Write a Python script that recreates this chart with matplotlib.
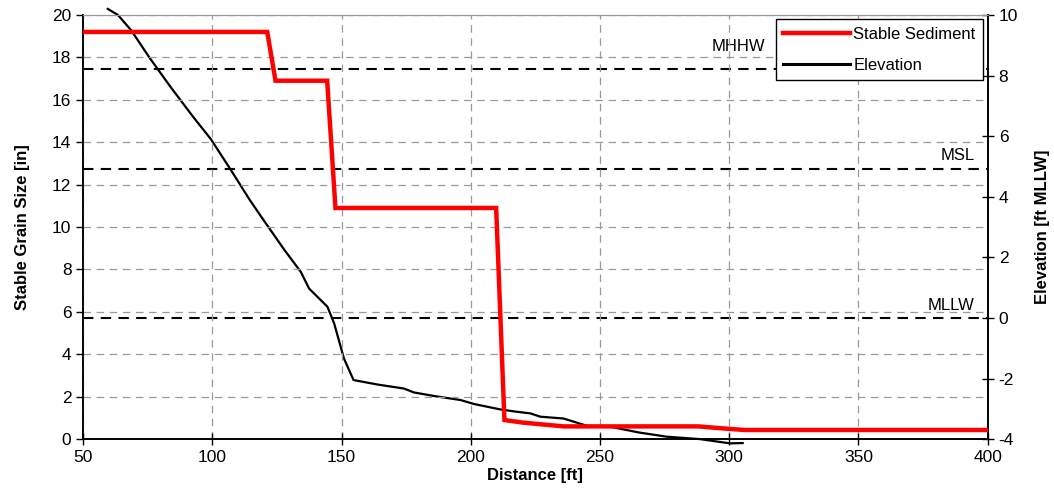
import matplotlib.pyplot as plt

plt.rcParams["font.family"] = ["Liberation Sans", "DejaVu Sans"]
plt.rcParams["axes.unicode_minus"] = False

# stable grain size [in] along the profile
sediment_x = [50, 121.2, 124.4, 144.4, 147.6, 209.8, 213.0, 220, 236, 288, 296, 306, 400]
sediment_in = [19.2, 19.2, 16.9, 16.9, 10.9, 10.9, 0.9, 0.78, 0.6, 0.6, 0.52, 0.43, 0.43]

# ground elevation [ft MLLW]
elev_x = [59.5, 63.4, 68.5, 75.8, 84, 92.5, 99.4, 107, 114.4, 118.8, 127.8, 134.2,
          137.4, 144.5, 147.1, 150.9, 154.6, 164, 174.1, 178, 186, 196, 201.2,
          211.4, 218, 223, 226.9, 235.9, 244.9, 253.9, 265, 275.8, 288.7, 300.3, 305.2]
elev_ft = [10.2, 10.0, 9.5, 8.57, 7.6, 6.64, 5.9, 4.9, 3.9, 3.35, 2.25, 1.52,
           0.97, 0.37, -0.18, -1.34, -2.05, -2.2, -2.33, -2.46, -2.58, -2.71, -2.84,
           -3.02, -3.1, -3.15, -3.26, -3.32, -3.56, -3.59, -3.78, -3.92, -4.0, -4.14, -4.13]

# tidal datums [ft MLLW]
datum_names = ["MHHW", "MSL", "MLLW"]
datum_elev = [8.22, 4.92, 0.0]
datum_label_x = [314, 395, 395]
datum_label_pad = [0.5, 0.2, 0.15]

fig, ax = plt.subplots(figsize=(10.54, 4.99), dpi=100)
fig.subplots_adjust(left=0.079, right=0.937, bottom=0.12, top=0.97)
ax2 = ax.twinx()
ax.set_zorder(ax2.get_zorder() + 1)
ax.patch.set_visible(False)

ax.plot(sediment_x, sediment_in, color="#ff0000", lw=3.2, label="Stable Sediment",
        solid_joinstyle="miter", zorder=4)
ax2.plot(elev_x, elev_ft, color="black", lw=1.6, clip_on=False, zorder=3)
ax.plot([], [], color="black", lw=2.2, label="Elevation")

for name, z, lx, pad in zip(datum_names, datum_elev, datum_label_x, datum_label_pad):
    ax2.axhline(z, color="black", lw=1.5, ls=(0, (5, 3.5)), zorder=2)
    ax2.text(lx, z + pad, name, ha="right", va="bottom", fontsize=12)

ax.set_xlim(50, 400)
ax.set_ylim(0, 20)
ax2.set_ylim(-4, 10)
ax.set_xticks(range(50, 401, 50))
ax.set_yticks(range(0, 21, 2))
ax2.set_yticks(range(-4, 11, 2))

ax.grid(True, color="#999999", lw=0.9, ls=(0, (6, 4.5)))
ax.tick_params(axis="y", direction="out", length=5, labelsize=12.5, width=1)
ax.tick_params(axis="x", direction="inout", length=9, labelsize=12.5, width=1)
ax2.tick_params(axis="y", direction="inout", length=9, labelsize=12.5, width=1)

for a in (ax, ax2):
    a.spines["top"].set_color("#999999")
    a.spines["left"].set_linewidth(1.2)
    a.spines["right"].set_linewidth(1.2)
    a.spines["bottom"].set_linewidth(1.2)

ax.set_xlabel("Distance [ft]", fontsize=12, fontweight="bold", labelpad=2)
ax.set_ylabel("Stable Grain Size [in]", fontsize=12, fontweight="bold", labelpad=16)
ax2.set_ylabel("Elevation [ft MLLW]", fontsize=12, fontweight="bold", labelpad=12)

leg = ax.legend(loc="upper right", bbox_to_anchor=(0.995, 0.99), fontsize=12,
                frameon=True, fancybox=False, handlelength=4.0, handletextpad=0.2,
                borderpad=0.45, labelspacing=0.95, borderaxespad=0)
leg.get_frame().set_edgecolor("black")
leg.get_frame().set_linewidth(1.0)
leg.get_frame().set_alpha(1)

fig.savefig("out.png", dpi=100)
